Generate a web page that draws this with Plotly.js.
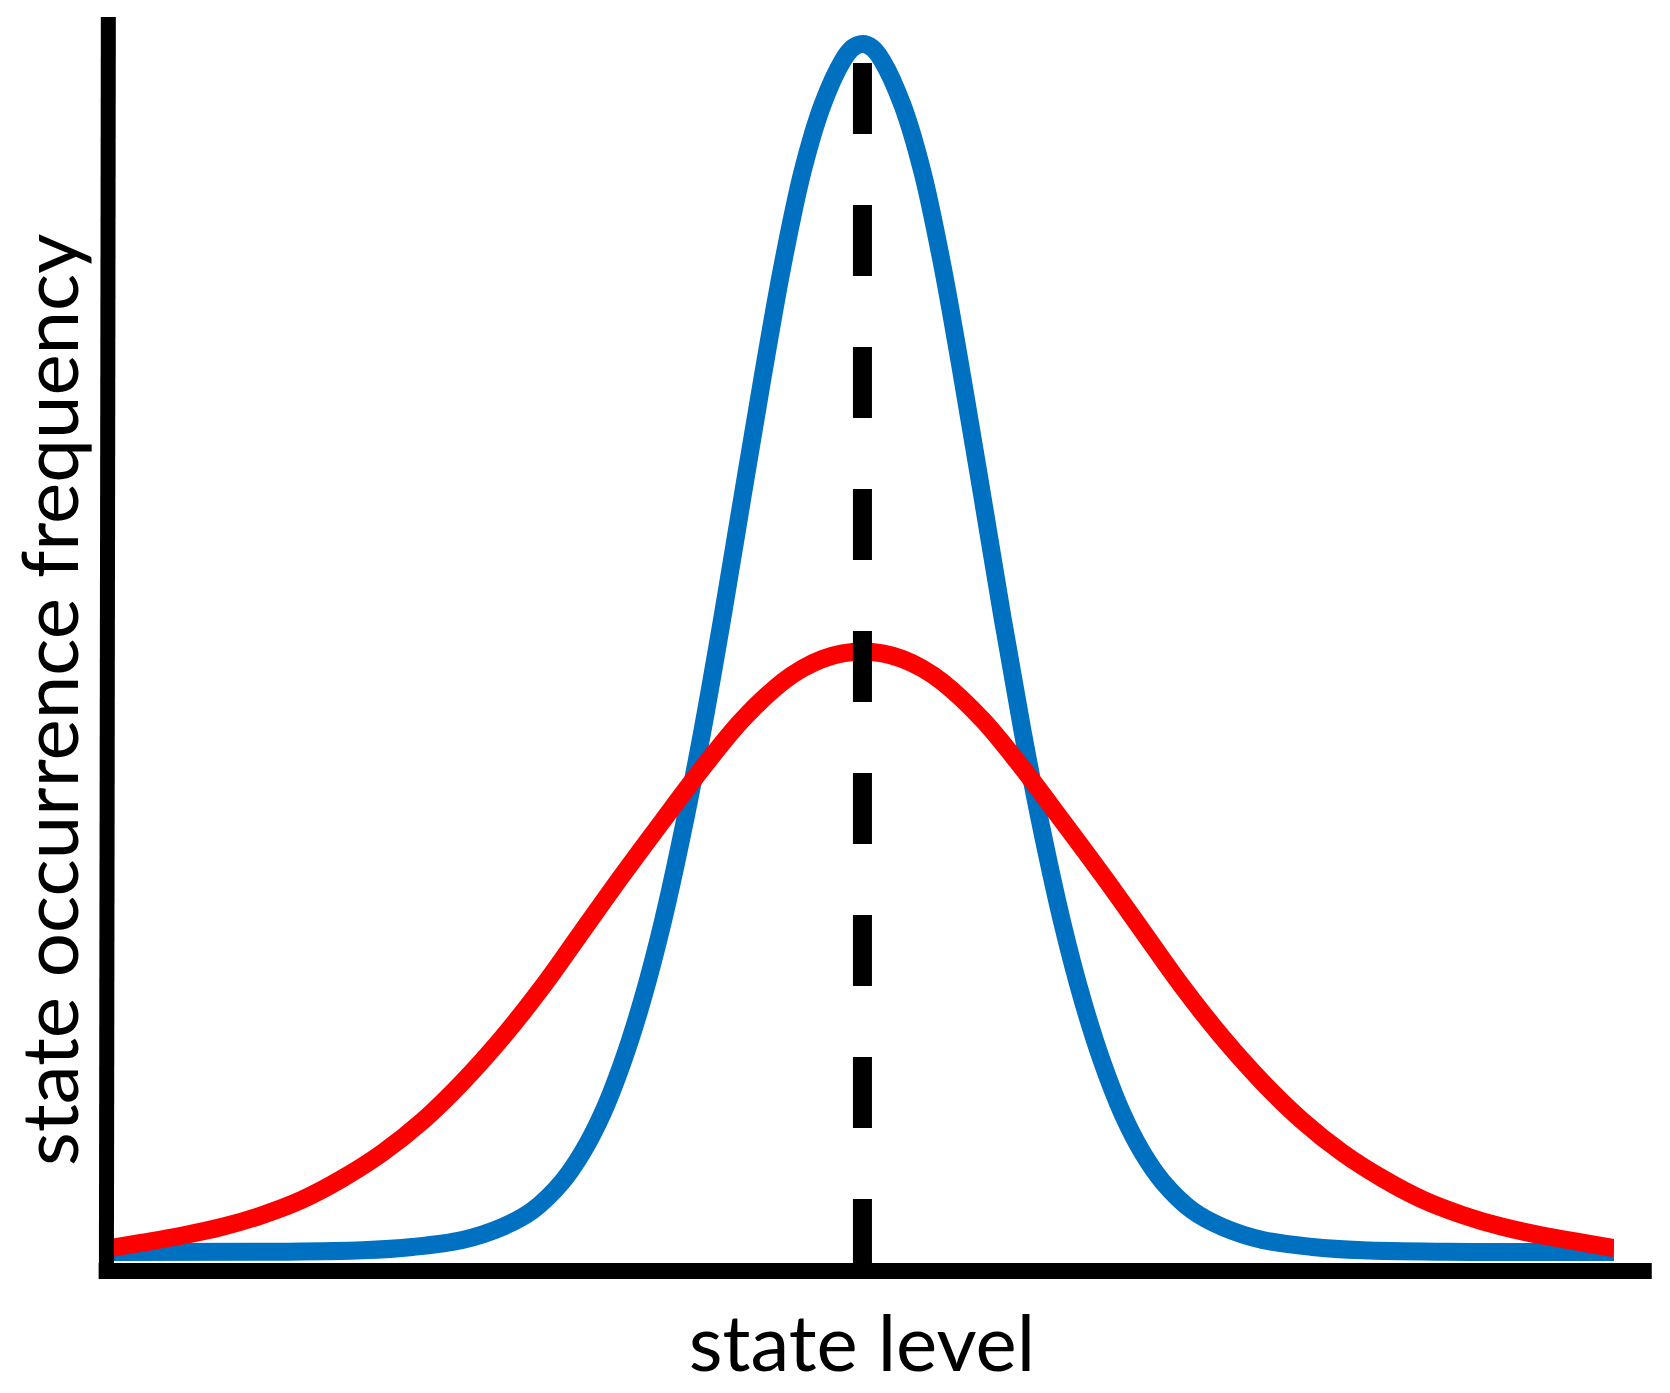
<!DOCTYPE html>
<html>
<head>
<meta charset="utf-8">
<script src="https://cdn.plot.ly/plotly-3.0.1.min.js"></script>
<style>
  html, body { margin: 0; padding: 0; background: #ffffff; }
  #chart { width: 1670px; height: 1393px; }
</style>
</head>
<body>
<div id="chart"></div>
<script>
// State level (arbitrary units, 0..100) and occurrence frequency (peak of narrow curve = 100)
const narrowLevel = [0, 11.13, 16.79, 20.11, 23.43, 26.09, 28.09, 30.08, 31.41, 32.74, 34.07, 35.40, 36.73, 38.06, 39.39, 40.72, 42.05, 43.38, 44.71, 46.04, 47.37, 48.70, 49.37, 50.03,
                     50.70, 51.36, 52.69, 54.02, 55.35, 56.68, 58.01, 59.34, 60.67, 62.00, 63.33, 64.66, 65.99, 67.32, 68.64, 69.98, 71.97, 73.97, 76.63, 79.95, 83.28, 88.93, 100];
const narrowFreq = [1.55, 1.57, 1.69, 1.96, 2.53, 3.59, 4.93, 7.29, 9.66, 12.81, 16.97, 22.10, 28.32, 35.70, 44.02, 53.27, 63.07, 72.75, 81.91, 89.57, 95.03, 98.61, 99.67, 100,
                    99.67, 98.61, 95.03, 89.57, 81.91, 72.75, 63.07, 53.27, 44.02, 35.70, 28.32, 22.10, 16.97, 12.81, 9.66, 7.29, 4.93, 3.59, 2.53, 1.96, 1.69, 1.57, 1.55];

const broadLevel = [0, 2.16, 4.82, 7.48, 10.14, 12.80, 15.46, 18.12, 20.78, 23.43, 26.09, 28.75, 31.41, 34.07, 36.73, 39.39, 42.05, 44.71, 46.04, 47.37, 48.70, 50.03,
                    51.36, 52.69, 54.02, 55.35, 58.01, 60.67, 63.33, 65.99, 68.65, 71.31, 73.97, 76.63, 79.29, 81.94, 84.60, 87.26, 89.92, 92.58, 95.24, 97.90, 100];
const broadFreq = [1.87, 2.31, 2.89, 3.60, 4.57, 5.83, 7.55, 9.64, 12.23, 15.39, 19.03, 23.15, 27.71, 32.27, 36.67, 40.98, 44.93, 48.00, 49.10, 49.88, 50.33, 50.49,
                   50.33, 49.88, 49.10, 48.00, 44.93, 40.98, 36.67, 32.27, 27.71, 23.15, 19.03, 15.39, 12.23, 9.64, 7.55, 5.83, 4.57, 3.60, 2.89, 2.31, 1.87];

const meanLevel = [50.03, 50.03];
const meanLineFreq = [98.45, 0];

const xLabel = "state level";
const yLabel = "state occurrence frequency";

const traces = [
  {
    x: narrowLevel, y: narrowFreq, type: 'scatter', mode: 'lines',
    line: { color: '#0070C0', width: 18, shape: 'spline', smoothing: 1 },
    hoverinfo: 'skip', showlegend: false
  },
  {
    x: broadLevel, y: broadFreq, type: 'scatter', mode: 'lines',
    line: { color: '#FF0000', width: 18, shape: 'spline', smoothing: 1 },
    hoverinfo: 'skip', showlegend: false
  },
  {
    x: meanLevel, y: meanLineFreq, type: 'scatter', mode: 'lines',
    line: { color: '#000000', width: 19, dash: '71px,71px' },
    hoverinfo: 'skip', showlegend: false
  }
];

const fontFamily = 'Lato, "Open Sans", sans-serif';

const layout = {
  width: 1670, height: 1393,
  margin: { l: 110, r: 56, t: 17, b: 122, pad: 0 },
  paper_bgcolor: '#ffffff', plot_bgcolor: '#ffffff',
  showlegend: false,
  xaxis: {
    range: [0, 100], showgrid: false, zeroline: false, showline: false,
    showticklabels: false, ticks: '', fixedrange: true, automargin: false,
    title: { text: xLabel, standoff: 45, font: { family: fontFamily, size: 78, color: '#000000' } }
  },
  yaxis: {
    range: [0, 102.2], showgrid: false, zeroline: false, showline: false,
    showticklabels: false, ticks: '', fixedrange: true, automargin: false,
    title: { text: '' }
  },
  annotations: [
    {
      text: yLabel, xref: 'paper', yref: 'paper', x: -0.0412, y: 0.4553,
      xanchor: 'center', yanchor: 'middle', textangle: -90, showarrow: false,
      font: { family: fontFamily, size: 78, color: '#000000' }
    }
  ],
  shapes: [
    { type: 'line', xref: 'paper', yref: 'paper', x0: -0.0075, x1: 1.0251, y0: 0, y1: 0,
      line: { color: '#000000', width: 16 }, layer: 'above' },
    { type: 'line', xref: 'paper', yref: 'paper', x0: -0.0024, y0: -0.0064, x1: -0.0011, y1: 1.0,
      line: { color: '#000000', width: 15 }, layer: 'above' }
  ]
};

Plotly.newPlot('chart', traces, layout, { displayModeBar: false, staticPlot: true });
</script>
</body>
</html>
